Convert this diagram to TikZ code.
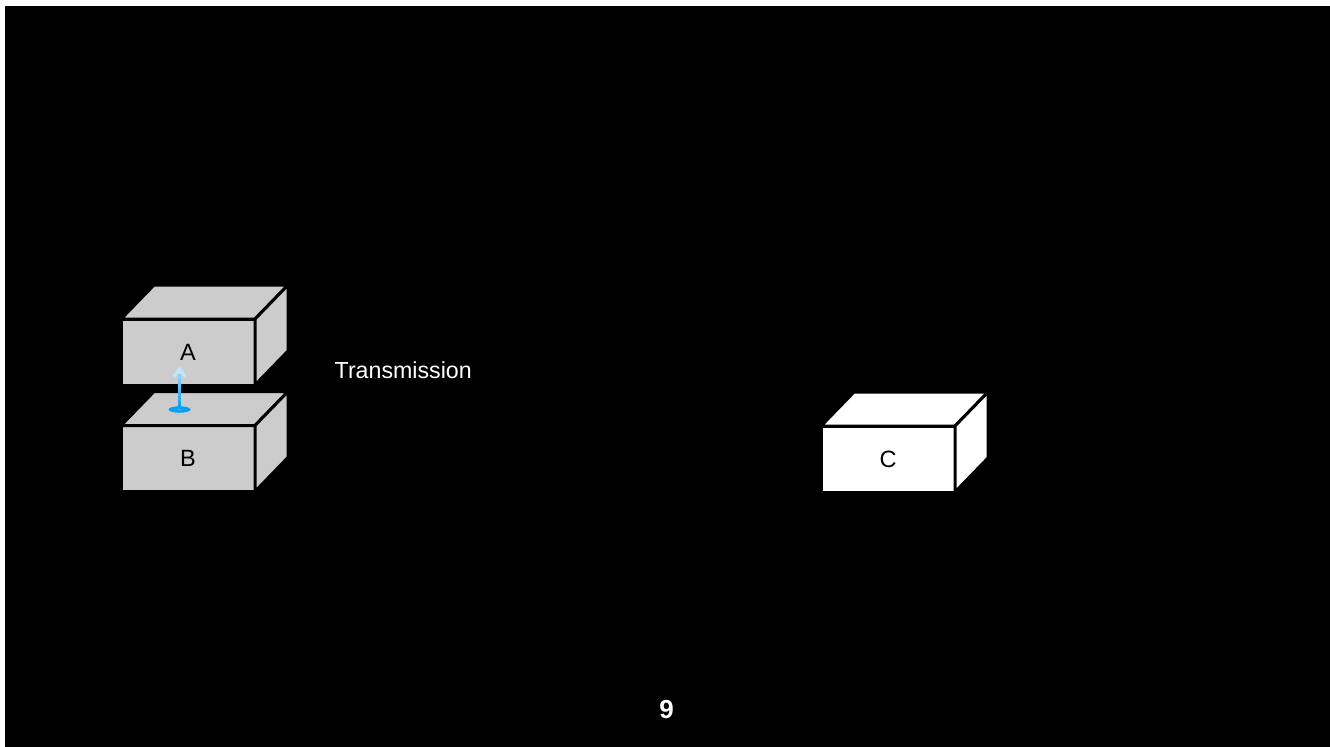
\documentclass[tikz,border=0pt]{standalone}
\usepackage{fontspec}
\setmainfont{Liberation Sans}
\usepackage{tikz}
\usetikzlibrary{positioning,arrows.meta,shapes.geometric,calc}
\definecolor{boxGrey}{RGB}{204,204,204}
\definecolor{beamBlue}{RGB}{8,160,245}
\definecolor{beamLight}{RGB}{195,228,250}
\newcommand{\boxsides}[2]{%
  \draw[face, fill=#2] (#1.north west) -- ++(33,-34)
    -- ($(#1.north east)+(33,-34)$) -- (#1.north east) -- cycle;
  \draw[face, fill=#2] (#1.north east) -- ++(33,-34)
    -- ($(#1.south east)+(33,-34)$) -- (#1.south east) -- cycle;
}

\begin{document}
\begin{tikzpicture}[
  x=0.1mm, y=-0.1mm,
  front/.style={
    draw=black, line width=0.3mm, outer sep=0pt, inner sep=0pt,
    minimum width=13.4mm, minimum height=6.6mm,
    font=\fontsize{6.7pt}{7pt}\selectfont
  },
  face/.style={draw=black, line width=0.3mm, line join=miter},
  lbl/.style={text=white, inner sep=0pt, font=\fontsize{6.6pt}{7pt}\selectfont},
  beam/.style={line width=0.33mm, line cap=butt},
  spot/.style={ellipse, fill=beamBlue, inner sep=0pt,
    minimum width=2.2mm, minimum height=0.65mm}
]
\useasboundingbox (0,0) rectangle (1330,746);
\fill[white] (0,0) rectangle (1330,746);
\fill[black] (5,6) rectangle (1345,760);

\node[front, fill=boxGrey] (A) at (188,352) {A};
\boxsides{A}{boxGrey}
\node[front, fill=boxGrey] (B) at (188,458.5) {B};
\boxsides{B}{boxGrey}
\node[front, fill=white] (C) at (888,459) {C};
\boxsides{C}{white}

\node[lbl, anchor=west] (trans) at (334,370) {Transmission};
\node[lbl, font=\fontsize{7.4pt}{8pt}\selectfont\bfseries] (page) at (666.5,710) {9};

\node[spot] (src) at (179.5,409.5) {};
\coordinate (tip) at (179.5,366);
\draw[beam, beamLight, -{Straight Barb[length=0.8mm,width=1.15mm,line width=0.3mm]}]
  (src.center) -- (tip);
\foreach \k in {0,...,7}{
  \pgfmathsetmacro\lo{\k/10}
  \pgfmathsetmacro\hi{\k/10+0.11}
  \pgfmathsetmacro\mix{100-10*\k}
  \draw[beam, beamBlue!\mix!beamLight] ($(src.center)!\lo!(tip)$) -- ($(src.center)!\hi!(tip)$);
}
\end{tikzpicture}
\end{document}
